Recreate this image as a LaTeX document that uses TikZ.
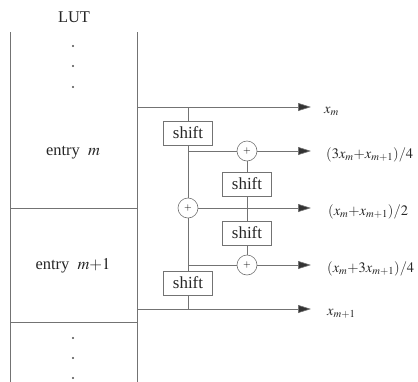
\documentclass[tikz,border=0pt]{standalone}
\usepackage{mathptmx}
\usepackage{fontspec}
\setmainfont{Liberation Serif}
\usetikzlibrary{arrows.meta}
\begin{document}
\begin{tikzpicture}[x=1bp,y=-1bp,
  wire/.style={draw=black!55,line width=0.6bp},
  outarrow/.style={wire,-{Triangle[length=13bp,width=8bp,fill=black!80]}},
  shiftbox/.style={draw=black!55,line width=0.6bp,minimum width=49bp,minimum height=24bp,inner sep=0pt,font=\fontsize{17}{18}\selectfont,text=black!85},
  adder/.style={circle,draw=black!55,line width=0.6bp,minimum size=20bp,inner sep=0pt},
  txt/.style={font=\fontsize{16.5}{18}\selectfont,text=black!85},
  lbl/.style={font=\fontsize{14.5}{16}\selectfont,text=black!85,anchor=base west,inner sep=0pt},
  dot/.style={circle,fill=black!70,inner sep=0pt,minimum size=2.2bp}]
\useasboundingbox (0,0) rectangle (418,382);
% LUT
\node[txt] (lut) at (74,17) {LUT};
\coordinate (lt) at (10,32); \coordinate (lb) at (10,382);
\coordinate (rt) at (137,32); \coordinate (rb) at (137,382);
\coordinate (h1l) at (10,208); \coordinate (h1r) at (137,208);
\coordinate (h2l) at (10,322); \coordinate (h2r) at (137,322);
\draw[wire] (lt) -- (lb);
\draw[wire] (rt) -- (rb);
\draw[wire] (h1l) -- (h1r);
\draw[wire] (h2l) -- (h2r);
\node[dot] (d1) at (73,46) {};
\node[dot] (d2) at (73,66) {};
\node[dot] (d3) at (73,87) {};
\node[dot] (d4) at (73,338) {};
\node[dot] (d5) at (73,358) {};
\node[dot] (d6) at (73,378) {};
\node[txt] (em) at (73,153) {entry\ \ $m$};
\node[txt] (em1) at (73,266) {entry\ \ $m{+}1$};
% column 1
\node[shiftbox] (s1) at (188,133) {shift};
\node[adder] (c1) at (188,208) {\fontsize{10}{10}\selectfont$+$};
\node[shiftbox] (s2) at (188,283) {shift};
% column 2
\node[adder] (c2) at (247,151) {\fontsize{10}{10}\selectfont$+$};
\node[shiftbox] (sb1) at (247,184) {shift};
\node[shiftbox] (sb2) at (247,233) {shift};
\node[adder] (c3) at (247,265) {\fontsize{10}{10}\selectfont$+$};
% coordinates
\coordinate (oA) at (137,107); \coordinate (jA) at (188,107); \coordinate (tA) at (311,107);
\coordinate (bB) at (188,151); \coordinate (tB) at (311,151);
\coordinate (jC) at (247,208); \coordinate (tC) at (311,208);
\coordinate (bD) at (188,265); \coordinate (tD) at (311,265);
\coordinate (oE) at (137,309); \coordinate (jE) at (188,309); \coordinate (tE) at (311,309);
% wires
\draw[outarrow] (oA) -- (tA);
\draw[wire] (jA) -- (s1);
\draw[wire] (s1) -- (c1);
\draw[wire] (bB) -- (c2);
\draw[outarrow] (c2) -- (tB);
\draw[outarrow] (c1) -- (tC);
\draw[wire] (jC) -- (sb1);
\draw[wire] (sb1) -- (c2);
\draw[wire] (jC) -- (sb2);
\draw[wire] (sb2) -- (c3);
\draw[wire] (s2) -- (c1);
\draw[wire] (bD) -- (c3);
\draw[outarrow] (c3) -- (tD);
\draw[outarrow] (oE) -- (tE);
\draw[wire] (jE) -- (s2);
% labels
\node[lbl] (lA) at (324,113) {$x_m$};
\node[lbl] (lB) at (326,158) {$(3x_m{+}x_{m+1})/4$};
\node[lbl] (lC) at (328,215) {$(x_m{+}x_{m+1})/2$};
\node[lbl] (lD) at (327,272) {$(x_m{+}3x_{m+1})/4$};
\node[lbl] (lE) at (327,315) {$x_{m+1}$};
\end{tikzpicture}
\end{document}
